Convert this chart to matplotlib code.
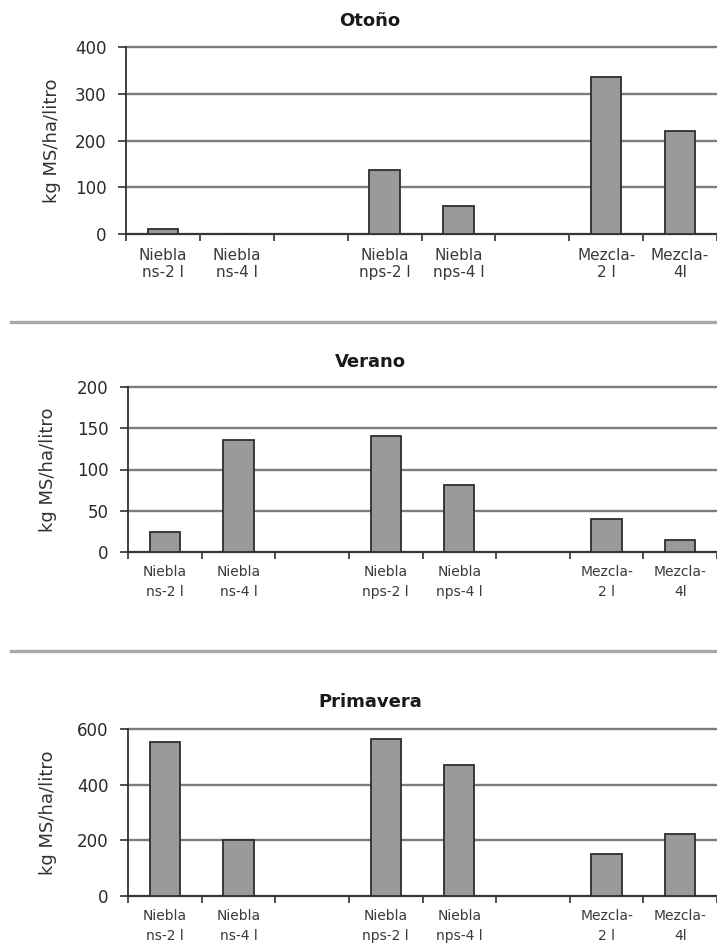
import numpy as np
import matplotlib
matplotlib.use('Agg')
import matplotlib.pyplot as plt
from matplotlib.lines import Line2D

plt.rcParams['font.family'] = ['DejaVu Sans']

categories = ['Niebla\nns-2 l', 'Niebla\nns-4 l', '', 'Niebla\nnps-2 l', 'Niebla\nnps-4 l',
              '', 'Mezcla-\n2 l', 'Mezcla-\n4l']
nan = np.nan
otono = [11, 0, nan, 136, 60, nan, 335, 220]
verano = [24, 136, nan, 140, 81, nan, 40, 15]
primavera = [554, 201, nan, 564, 471, nan, 151, 223]

W, H = 717, 947
fig = plt.figure(figsize=(W / 100, H / 100), dpi=100)

def px_axes(left, top, right, bottom):
    return fig.add_axes([left / W, 1 - bottom / H, (right - left) / W, (bottom - top) / H])

def draw_panel(ax, values, yticks, title, title_y, ylab_x, lab_size, lab_spacing, lab_pad):
    x = np.arange(len(categories)) + 0.5
    ax.bar(x, values, width=0.41, color='#9a9a9a', edgecolor='#2e2e2e', linewidth=1.3, zorder=3)
    ax.set_xlim(0, len(categories))
    ax.set_ylim(yticks[0], yticks[-1])
    ax.set_yticks(yticks)
    ax.yaxis.grid(True, color='#7c7c7c', linewidth=1.7, zorder=0)
    ax.set_axisbelow(True)
    # keep the top gridline at full width
    for gl in ax.get_ygridlines():
        gl.set_clip_on(False)
    for s in ['top', 'right']:
        ax.spines[s].set_visible(False)
    ax.spines['left'].set_color('#303030')
    ax.spines['bottom'].set_color('#303030')
    ax.spines['left'].set_linewidth(1.3)
    ax.spines['bottom'].set_linewidth(1.3)
    ax.tick_params(axis='y', length=6, width=1.2, color='#303030', pad=8,
                   labelsize=12, labelcolor='#2a2a2a')
    # category labels in the middle, tick marks on the boundaries
    ax.set_xticks(x)
    ax.set_xticklabels(categories, fontsize=lab_size, color='#3a3a3a',
                       linespacing=lab_spacing)
    ax.tick_params(axis='x', which='major', length=0, pad=lab_pad)
    ax.set_xticks(np.arange(len(categories) + 1), minor=True)
    ax.tick_params(axis='x', which='minor', length=5, width=1.2, color='#303030')
    ax.set_ylabel('kg MS/ha/litro', fontsize=13, color='#333333', va='center')
    bb = ax.get_position()
    ax.yaxis.set_label_coords((ylab_x / W - bb.x0) / bb.width, 0.5)
    fig.text(370 / W, 1 - title_y / H, title, ha='center', va='center',
             fontsize=13, fontweight='bold', color='#1a1a1a')

ax1 = px_axes(126, 47, 717, 234)
draw_panel(ax1, otono, [0, 100, 200, 300, 400], 'Otoño', 21, 52, 11, 1.15, 10)

ax2 = px_axes(128, 387, 717, 552)
draw_panel(ax2, verano, [0, 50, 100, 150, 200], 'Verano', 362, 48, 10, 1.6, 9)

ax3 = px_axes(128, 729, 717, 896)
draw_panel(ax3, primavera, [0, 200, 400, 600], 'Primavera', 702, 48, 10, 1.6, 9)

# gray separators between the charts
for y in [322, 651]:
    fig.add_artist(Line2D([11 / W, 1], [1 - y / H, 1 - y / H], color='#a8a8a8',
                          linewidth=2.4, transform=fig.transFigure))

fig.savefig('out.png', dpi=100)
